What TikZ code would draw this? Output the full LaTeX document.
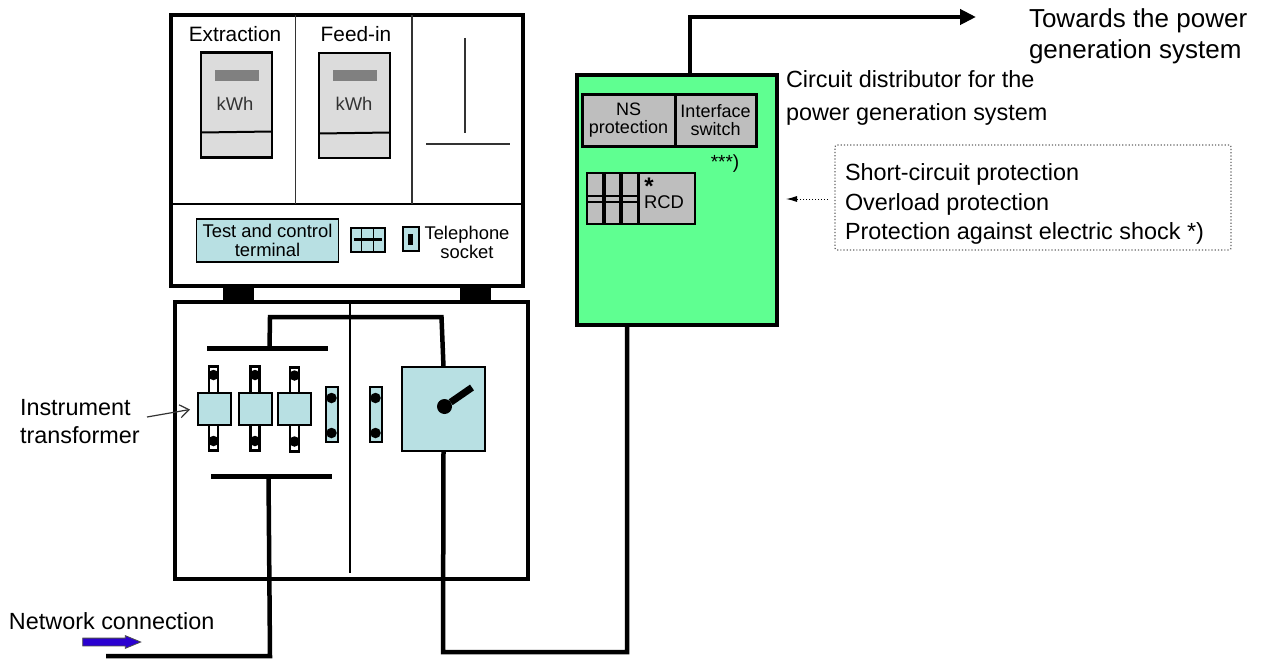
\documentclass[tikz,border=0pt]{standalone}
\usepackage{fontspec}
\setmainfont{Liberation Sans}
\usetikzlibrary{arrows.meta,shapes.arrows}
\definecolor{paleblue}{HTML}{B8E0E3}
\definecolor{brightgreen}{HTML}{5FFF91}
\definecolor{metergray}{HTML}{DCDCDC}
\definecolor{unitgray}{HTML}{BEBEBE}
\definecolor{arrowblue}{HTML}{2A00D0}
\begin{document}
\begin{tikzpicture}[
        x=1pt, y=-1pt,
        every node/.style={inner sep=0pt, outer sep=0pt},
        case/.style={draw, line width=4pt},
        meter/.style={draw, line width=2.5pt, fill=metergray, minimum width=71pt, minimum height=105pt},
        display/.style={fill=gray, minimum width=44pt, minimum height=11pt},
        cell/.style={draw, line width=2pt, fill=paleblue},
        strip/.style={draw, line width=2.5pt, fill=white, minimum width=9pt, minimum height=84pt},
        core/.style={cell, minimum width=33pt, minimum height=32pt},
        link/.style={cell, minimum width=12pt, minimum height=55pt},
        dot/.style={circle, fill=black, minimum size=10.5pt},
        unit/.style={draw, line width=3pt, fill=unitgray, minimum height=52pt, align=center, font=\fontsize{18}{18}\selectfont},
        foot/.style={fill=black, minimum width=31pt, minimum height=15pt},
        wire/.style={line width=4.5pt, line join=miter},
        thin line/.style={line width=1.5pt, draw=black!80},
        big/.style={align=left, anchor=west, font=\fontsize{23.4}{29.5}\selectfont},
        small/.style={align=center, font=\fontsize{18.4}{19}\selectfont}
    ]
        \useasboundingbox (0,0) rectangle (1265,658);

        % Zaehlerschrank
        \node [foot] (footL) at (238,294) {};
        \node [foot] (footR) at (475.5,294) {};
        \node [case, minimum width=352pt, minimum height=271pt] (upper) at (347,150.5) {};
        \node [case, minimum width=353pt, minimum height=277pt] (lower) at (351.5,440.5) {};

        % Felder oben
        \coordinate (midL) at (170.5,204);
        \coordinate (midR) at (523,204);
        \coordinate (divA) at (295.5,15);
        \coordinate (divB) at (412,15);
        \draw [line width=2.5pt] (midL) -- (midR);
        \draw [thin line] (divA) -- (divA |- midL);
        \draw [thin line] (divB) -- (divB |- midL);
        \coordinate (teeTop) at (465,38);
        \coordinate (teeBase) at (465,133);
        \coordinate (teeL) at (426,144);
        \coordinate (teeR) at (510,144);
        \draw [thin line] (teeTop) -- (teeBase);
        \draw [thin line] (teeL) -- (teeR);

        % Zaehler
        \node (extraction) at (235,34) [font=\fontsize{20.8}{22}\selectfont] {Extraction};
        \node (feedin) at (356,34) [font=\fontsize{20.8}{22}\selectfont] {Feed-in};
        \node [meter] (meterA) at (236.5,105) {};
        \node [meter] (meterB) at (354.5,105.5) {};
        \draw [line width=2pt] (meterA.west |- 0,132.5) -- (meterA.east |- 0,131.5);
        \draw [line width=2pt] (meterB.west |- 0,133.5) -- (meterB.east |- 0,132.5);
        \node [display] (dispA) at (236.5,75.5) {};
        \node [display] (dispB) at (355,76) {};
        \node [small, text=black!80] (kwhA) at (235,104) {kWh};
        \node [small, text=black!80] (kwhB) at (354,104) {kWh};

        % Klemmen
        \node [cell, line width=1.5pt, minimum width=142pt, minimum height=43pt] (terminal) at (267.5,240.5) {};
        \node [small] at (terminal) {Test and control\\terminal};
        \node [cell, minimum width=34pt, minimum height=24pt] (grid) at (367.5,239.5) {};
        \draw [line width=1.5pt] (grid.north) ++(-6,0) -- ++(0,24);
        \draw [line width=1.5pt] (grid.north) ++(6,0) -- ++(0,24);
        \draw [line width=3.5pt] (grid.west) ++(3,0) -- ++(28,0);
        \node [cell, minimum width=16pt, minimum height=24pt] (socket) at (410.5,239) {};
        \node [fill=black, minimum width=5pt, minimum height=11pt] (pin) at (socket) {};
        \node [small] (telephone) at (467,242.5) {Telephone\\socket};

        % Wandler
        \node [strip] (stripA) at (213.5,408.5) {};
        \node [strip] (stripB) at (255,408.5) {};
        \node [strip] (stripC) at (294.5,409.5) {};
        \node [dot] at (213.5,375) {};
        \node [dot] at (213.5,441) {};
        \node [dot] at (255,375) {};
        \node [dot] at (255,441) {};
        \node [dot] at (294.5,375.5) {};
        \node [dot] at (294.5,441.5) {};
        \node [core] (coreA) at (214,409) {};
        \node [core] (coreB) at (255.5,409) {};
        \node [core] (coreC) at (294.5,409) {};
        \node [link] (linkA) at (331.5,414) {};
        \node [link] (linkB) at (375.5,414) {};
        \node [dot] at (331.5,398) {};
        \node [dot] at (331.5,433) {};
        \node [dot] at (375.5,398) {};
        \node [dot] at (375.5,433) {};

        % Schalter
        \coordinate (divC) at (350,302);
        \coordinate (divD) at (350,573);
        \draw [line width=2pt] (divC) -- (divD);
        \node [cell, minimum width=83pt, minimum height=84pt] (switch) at (443.5,409) {};
        \node [dot, minimum size=15pt] (hub) at (444.5,406.5) {};
        \coordinate (handle) at (472,387.5);
        \draw [line width=7pt] (hub) -- (handle);

        % Sammelschienen und Leitungen
        \coordinate (barTopL) at (207,348);
        \coordinate (barTopR) at (328,348);
        \coordinate (barLowL) at (211,476);
        \coordinate (barLowR) at (332,476);
        \draw [line width=5pt] (barTopL) -- (barTopR);
        \draw [line width=5pt] (barLowL) -- (barLowR);
        \coordinate (tapTop) at (269.5,348);
        \coordinate (tapLow) at (268.5,476);
        \coordinate (netEnd) at (106,656);
        \draw [wire] (tapTop) -- (270,317) -- (441.5,317) -- (switch.north);
        \draw [wire] (tapLow) -- (270,656) -- (netEnd);

        % Verteiler
        \node [draw, line width=3.5pt, fill=brightgreen, minimum width=200pt, minimum height=250pt] (distributor) at (677,200) {};
        \node [unit, minimum width=93pt] (ns) at (628.5,120.5) {NS\\protection};
        \node [unit, minimum width=81pt] (interface) at (715.5,120.5) {Interface\\switch};
        \node [font=\fontsize{19}{19}\selectfont] (stars) at (725,164) {***)};
        \node [draw, line width=2.5pt, fill=unitgray, minimum width=108pt, minimum height=51pt] (rcd) at (641,198.5) {};
        \draw [line width=3.5pt] (604,173) -- (604,224);
        \draw [line width=3.5pt] (621,173) -- (621,224);
        \draw [line width=3pt] (638,173) -- (638,224);
        \draw [line width=2pt] (587,196) -- (638,196);
        \draw [line width=2.5pt] (587,202) -- (638,202);
        \node [font=\fontsize{18.4}{19}\selectfont] (rcdlabel) at (664,202) {RCD};
        \node [font=\bfseries\fontsize{24}{24}\selectfont, text height=8pt, text depth=0pt] (rcdstar) at (649,190) {*};
        \draw [wire] (switch.south) -- (443,652) -- (627,652) -- (distributor.south -| 627,0);
        \coordinate (powerEnd) at (976,17);
        \draw [wire, -{Triangle[length=16pt,width=15pt]}] (distributor.north -| 690,0) -- (690,17) -- (powerEnd);

        % Beschriftung
        \node [big, font=\fontsize{26}{31}\selectfont] (towards) at (1029,36) {Towards the power\\generation system};
        \node [big, font=\fontsize{23.4}{33}\selectfont] (circuit) at (786,97.5) {Circuit distributor for the\\power generation system};
        \node [big, font=\fontsize{23.4}{28}\selectfont] (instrument) at (20,422) {Instrument\\transformer};
        \node [big, font=\fontsize{23.4}{25}\selectfont] (network) at (9,621) {Network connection};
        \coordinate (coreTip) at (190,409.5);
        \coordinate (coreTail) at (147,417);
        \draw [line width=1.2pt, black!80, -{Straight Barb[length=9pt,width=13pt]}] (coreTail) -- (coreTip);

        % Schutzfunktionen
        \node [draw=black!60, dotted, line width=1.2pt, rounded corners=2pt, minimum width=396pt, minimum height=105pt] (protection) at (1033,197.5) {};
        \node [big] (protlist) at (845,204) {Short-circuit protection\\Overload protection\\Protection against electric shock *)};
        \coordinate (dotStart) at (828,199);
        \coordinate (dotEnd) at (786,199);
        \draw [dotted, line width=1pt, -{Latex[length=11pt,width=6pt]}] (dotStart) -- (dotEnd);
        \node [single arrow, draw=black!70, fill=arrowblue, line width=0.8pt, inner xsep=0pt, inner ysep=3.5pt, minimum height=58pt, single arrow head extend=2.5pt, single arrow tip angle=45, single arrow head indent=0pt] (netarrow) at (107,642) {};
    \end{tikzpicture}
\end{document}
